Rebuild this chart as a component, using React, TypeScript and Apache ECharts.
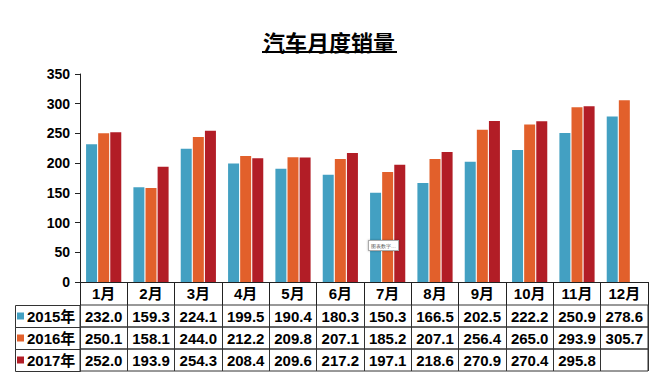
import React, { useEffect, useRef } from "react";
import * as echarts from "echarts";

const months = ["1月", "2月", "3月", "4月", "5月", "6月", "7月", "8月", "9月", "10月", "11月", "12月"];
const seriesNames = ["2015年", "2016年", "2017年"];
const sales2015 = [232.0, 159.3, 224.1, 199.5, 190.4, 180.3, 150.3, 166.5, 202.5, 222.2, 250.9, 278.6];
const sales2016 = [250.1, 158.1, 244.0, 212.2, 209.8, 207.1, 185.2, 207.1, 256.4, 265.0, 293.9, 305.7];
const sales2017 = [252.0, 193.9, 254.3, 208.4, 209.6, 217.2, 197.1, 218.6, 270.9, 270.4, 295.8, null];
const colors = ["#43a0c2", "#e2602b", "#b21d26"];

const FONT = "'Liberation Sans', Arial, 'Noto Sans CJK SC', sans-serif";

export default function App() {
  const ref = useRef<HTMLDivElement>(null);
  useEffect(() => {
    document.body.style.margin = "0";
    if (!ref.current) return;
    const chart = echarts.init(ref.current, null, { renderer: "svg" });
    const rows = [sales2015, sales2016, sales2017];
    const plotLeft = 80;
    const plotWidth = 568;
    const rowTop = 305;
    const rowH = 22;
    const fmt = (v: number | null) => (v == null ? "" : v.toFixed(1));

    const grids: any[] = [{ left: plotLeft, width: plotWidth, top: 74, height: 208 }];
    const xAxes: any[] = [
      {
        type: "category",
        data: months,
        gridIndex: 0,
        axisLine: { lineStyle: { color: "#222", width: 1 } },
        axisTick: { show: true, interval: 0, length: 23, lineStyle: { color: "#222" } },
        axisLabel: {
          interval: 0,
          margin: 11.5,
          verticalAlign: "middle",
          color: "#000",
          fontSize: 15,
          fontWeight: "bold",
          fontFamily: FONT,
        },
      },
    ];
    const yAxes: any[] = [
      {
        type: "value",
        gridIndex: 0,
        min: 0,
        max: 350,
        interval: 50,
        axisLine: { show: true, lineStyle: { color: "#222" } },
        axisTick: { show: true, length: 5, lineStyle: { color: "#222" } },
        splitLine: { show: false },
        axisLabel: { color: "#000", fontSize: 14, fontWeight: "bold", fontFamily: FONT, margin: 10 },
      },
    ];
    rows.forEach((rowData, i) => {
      grids.push({
        left: plotLeft,
        width: plotWidth,
        top: rowTop + i * rowH,
        height: rowH,
        show: true,
        borderColor: "#333",
        borderWidth: 1,
        backgroundColor: "transparent",
      });
      xAxes.push({
        type: "category",
        data: months,
        gridIndex: i + 1,
        position: "bottom",
        axisLine: { show: false },
        axisTick: { show: false },
        splitLine: { show: true, interval: 0, lineStyle: { color: "#333", width: 1 } },
        axisLabel: {
          interval: 0,
          margin: -11,
          verticalAlign: "middle",
          color: "#000",
          fontSize: 15,
          fontWeight: "bold",
          fontFamily: FONT,
          formatter: (_v: string, idx: number) => fmt(rowData[idx]),
        },
      });
      yAxes.push({ type: "value", gridIndex: i + 1, show: false });
    });

    const graphics: any[] = [];
    for (let i = 0; i < rows.length; i++) {
      graphics.push({
        type: "rect",
        shape: { x: 15.5, y: rowTop + i * rowH + 0.5, width: plotLeft - 15, height: rowH },
        style: { fill: "none", stroke: "#333", lineWidth: 1 },
      });
    }
    graphics.push({
      type: "line",
      shape: { x1: 262, y1: 52, x2: 397, y2: 52 },
      style: { stroke: "#000", lineWidth: 2 },
    });
    graphics.push({
      type: "text",
      x: 369,
      y: 241,
      style: {
        text: "图表数字…",
        fontSize: 5,
        fill: "#555",
        backgroundColor: "#fff",
        borderColor: "#aaa",
        borderWidth: 1,
        padding: [2, 2],
        shadowBlur: 2,
        shadowColor: "rgba(0,0,0,0.3)",
      },
      z: 100,
    });

    chart.setOption({
      animation: false,
      backgroundColor: "#fff",
      title: {
        text: "汽车月度销量",
        left: 263,
        top: 30,
        padding: 0,
        textStyle: { fontSize: 22, fontWeight: "bold", color: "#000", fontFamily: "'Noto Sans CJK SC', sans-serif" },
      },
      legend: {
        orient: "vertical",
        left: 17,
        top: 308.5,
        padding: 0,
        itemGap: 7,
        itemWidth: 7,
        itemHeight: 7,
        icon: "rect",
        selectedMode: false,
        data: seriesNames,
        textStyle: { fontSize: 15, fontWeight: "bold", color: "#000", fontFamily: FONT, padding: [0, 0, 0, -2] },
      },
      grid: grids,
      xAxis: xAxes,
      yAxis: yAxes,
      series: rows.map((d, i) => ({
        name: seriesNames[i],
        type: "bar",
        xAxisIndex: 0,
        yAxisIndex: 0,
        data: d,
        barWidth: 11,
        barGap: "10%",
        itemStyle: { color: colors[i] },
      })),
      graphic: graphics,
    });
    return () => chart.dispose();
  }, []);
  return <div ref={ref} style={{ position: "absolute", left: 0, top: 0, width: 663, height: 378 }} />;
}
